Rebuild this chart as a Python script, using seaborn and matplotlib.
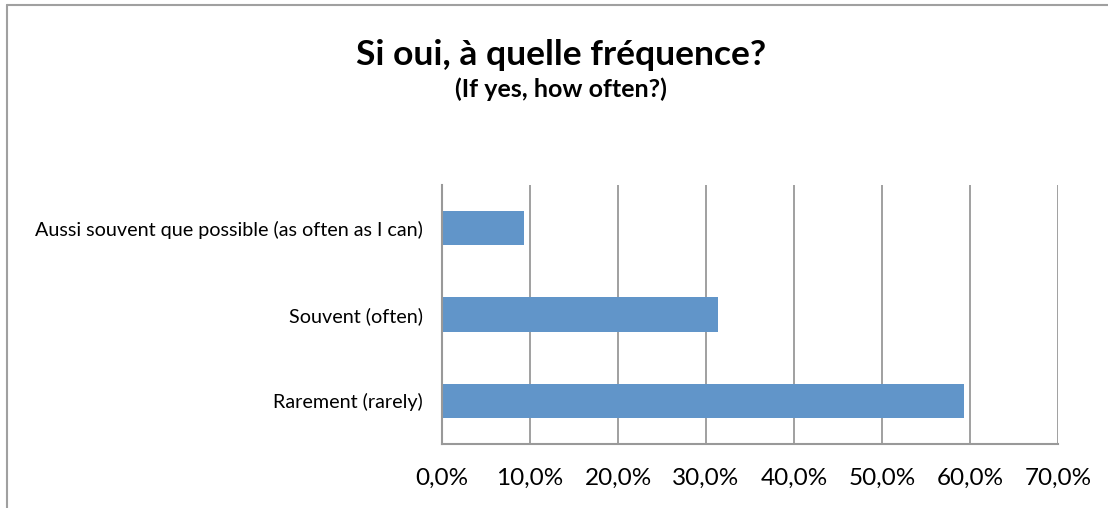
#Librerias
import matplotlib
matplotlib.use("Agg")
import matplotlib.pyplot as plt
import matplotlib.ticker as mticker
from matplotlib.lines import Line2D
import pandas as pd
import seaborn as sns

#Datos del grafico
categorias = ["Aussi souvent que possible (as often as I can)", "Souvent (often)", "Rarement (rarely)"]
porcentajes = [9.3, 31.4, 59.3]
ticks_x = [0, 10, 20, 30, 40, 50, 60, 70]

df = pd.DataFrame({"categoria": categorias, "porcentaje": porcentajes})

sns.set_style("white")
plt.rcParams["font.family"] = ["Lato", "DejaVu Sans"]
plt.rcParams["text.color"] = "black"

W, H = 1108, 508
fig = plt.figure(figsize=(W / 100, H / 100), dpi=100)
ax = fig.add_axes([442 / W, 1 - 444 / H, (1058 - 442) / W, (444 - 185) / H])

sns.barplot(
    data=df,
    x="porcentaje",
    y="categoria",
    orient="h",
    color="#6195C9",
    saturation=1,
    width=0.4,
    linewidth=0,
    ax=ax
)

ax.set_xlim(0, 70)
ax.set_xticks(ticks_x)
ax.xaxis.set_major_formatter(mticker.FuncFormatter(lambda v, p: f"{v:.1f}%".replace(".", ",")))
ax.grid(axis="x", color="#999999", linewidth=1.3)
ax.set_axisbelow(True)
ax.set_xlabel("")
ax.set_ylabel("")

for s in ["top", "right"]:
    ax.spines[s].set_visible(False)
for s in ["left", "bottom"]:
    ax.spines[s].set_color("#999999")
    ax.spines[s].set_linewidth(1.5)

ax.tick_params(axis="x", length=0, pad=17, labelsize=17.5, colors="black")
ax.tick_params(axis="y", length=0, pad=14, labelsize=14.2, colors="black")

#Titulo
fig.text(561 / W, 1 - 55 / H, "Si oui, à quelle fréquence?", ha="center", va="center",
         fontsize=25.5, fontweight="bold", color="black")
fig.text(561 / W, 1 - 89 / H, "(If yes, how often?)", ha="center", va="center",
         fontsize=18, fontweight="bold", color="black")

#Borde del grafico
fig.add_artist(Line2D([7 / W, 1.01], [1 - 5 / H, 1 - 5 / H], color="#A0A0A0", linewidth=1.5))
fig.add_artist(Line2D([7 / W, 7 / W], [-0.01, 1 - 5 / H], color="#A0A0A0", linewidth=1.5))

fig.savefig("out.png", dpi=100)
